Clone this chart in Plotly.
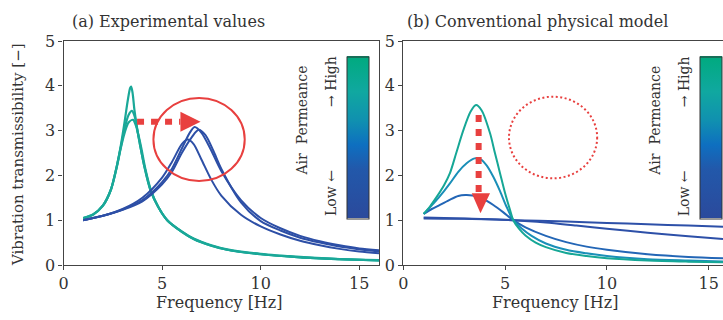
import plotly.graph_objects as go

W, H = 723, 320

# ---------------- data ----------------
# (a) Experimental values : high air permeance (teal) – three specimens
exp_high1_f = [1.0, 1.5, 2.0, 2.4, 2.7, 2.9, 3.1, 3.25, 3.38, 3.43, 3.5, 3.6, 3.75, 3.9, 4.1, 4.41, 4.8, 5.26, 6.0, 6.6, 7.5, 8.3, 10.0, 12.0, 14.0, 16.0]
exp_high1_y = [1.04, 1.12, 1.33, 1.68, 2.2, 2.65, 3.2, 3.65, 3.95, 3.98, 3.85, 3.45, 3.0, 2.64, 2.2, 1.67, 1.3, 1.0, 0.74, 0.58, 0.43, 0.34, 0.24, 0.17, 0.13, 0.1]
exp_high2_f = [1.0, 1.5, 2.0, 2.4, 2.7, 2.9, 3.1, 3.3, 3.47, 3.62, 3.75, 3.9, 4.1, 4.41, 4.8, 5.26, 6.0, 6.6, 7.5, 8.3, 10.0, 12.0, 14.0, 16.0]
exp_high2_y = [1.05, 1.13, 1.33, 1.68, 2.2, 2.62, 3.05, 3.35, 3.44, 3.3, 3.0, 2.64, 2.2, 1.67, 1.3, 1.0, 0.74, 0.58, 0.43, 0.34, 0.24, 0.17, 0.13, 0.1]
exp_high3_f = [1.0, 1.5, 2.0, 2.4, 2.7, 2.9, 3.1, 3.3, 3.53, 3.68, 3.8, 3.95, 4.15, 4.45, 4.8, 5.26, 6.0, 6.6, 7.5, 8.3, 10.0, 12.0, 14.0, 16.0]
exp_high3_y = [1.05, 1.13, 1.32, 1.67, 2.18, 2.6, 2.95, 3.18, 3.24, 3.1, 2.9, 2.6, 2.15, 1.65, 1.3, 1.0, 0.75, 0.59, 0.44, 0.35, 0.25, 0.18, 0.13, 0.11]

# (a) Experimental values : low air permeance (blue) – three specimens
exp_low1_f = [1.0, 2.0, 3.0, 4.0, 5.0, 5.5, 6.0, 6.3, 6.6, 7.0, 7.5, 8.0, 9.0, 10.0, 11.0, 12.0, 13.0, 14.0, 15.0, 16.0]
exp_low1_y = [1.0, 1.1, 1.25, 1.5, 1.95, 2.3, 2.7, 2.8, 2.7, 2.35, 1.9, 1.55, 1.12, 0.86, 0.68, 0.54, 0.44, 0.36, 0.3, 0.26]
exp_low2_f = [1.0, 2.0, 3.0, 4.0, 5.0, 5.5, 6.0, 6.4, 6.65, 7.0, 7.5, 8.0, 9.0, 10.0, 11.0, 12.0, 13.0, 14.0, 15.0, 16.0]
exp_low2_y = [1.0, 1.1, 1.24, 1.45, 1.85, 2.15, 2.6, 2.95, 3.08, 2.95, 2.55, 2.1, 1.45, 1.05, 0.82, 0.65, 0.53, 0.44, 0.37, 0.33]
exp_low3_f = [1.0, 2.0, 3.0, 4.0, 5.0, 5.5, 6.0, 6.5, 6.85, 7.2, 7.6, 8.0, 9.0, 10.0, 11.0, 12.0, 13.0, 14.0, 15.0, 16.0]
exp_low3_y = [1.0, 1.1, 1.23, 1.42, 1.8, 2.08, 2.5, 2.85, 3.02, 2.9, 2.55, 2.15, 1.4, 0.98, 0.77, 0.61, 0.5, 0.41, 0.35, 0.3]

# (b) Conventional physical model – five permeance levels (high -> low)
mod1_f = [1.0, 1.3, 1.64, 2.0, 2.29, 2.6, 2.95, 3.3, 3.57, 3.85, 4.26, 4.5, 4.75, 5.0, 5.24, 5.4, 5.7, 6.0, 6.5, 7.0, 8.0, 9.0, 10.0, 12.0, 14.0, 15.7]
mod1_y = [1.14, 1.3, 1.52, 1.78, 2.05, 2.5, 3.01, 3.42, 3.57, 3.45, 2.94, 2.5, 2.05, 1.6, 1.23, 1.0, 0.8, 0.66, 0.5, 0.4, 0.27, 0.2, 0.15, 0.1, 0.075, 0.06]
mod2_f = [1.0, 1.5, 2.0, 2.29, 2.7, 3.11, 3.5, 3.8, 4.1, 4.42, 4.75, 5.07, 5.4, 5.8, 6.3, 7.0, 8.0, 9.0, 10.0, 12.0, 14.0, 15.7]
mod2_y = [1.14, 1.38, 1.65, 1.82, 2.08, 2.27, 2.38, 2.36, 2.22, 1.97, 1.65, 1.3, 1.0, 0.82, 0.65, 0.48, 0.34, 0.26, 0.2, 0.13, 0.1, 0.08]
mod3_f = [1.0, 1.4, 1.8, 2.3, 2.7, 3.05, 3.4, 3.8, 4.1, 4.42, 4.9, 5.4, 6.0, 7.0, 8.0, 9.0, 10.0, 12.0, 14.0, 15.7]
mod3_y = [1.14, 1.25, 1.34, 1.46, 1.54, 1.56, 1.55, 1.5, 1.43, 1.34, 1.18, 1.0, 0.84, 0.65, 0.51, 0.41, 0.34, 0.24, 0.18, 0.15]
mod4_f = [1.0, 3.0, 5.4, 7.0, 8.5, 10.0, 12.0, 14.0, 15.7]
mod4_y = [1.04, 1.03, 1.0, 0.95, 0.88, 0.81, 0.72, 0.64, 0.58]
mod5_f = [1.0, 3.0, 5.4, 8.0, 10.0, 12.0, 14.0, 15.7]
mod5_y = [1.06, 1.04, 1.0, 0.97, 0.94, 0.91, 0.88, 0.855]

x_ticks = [0, 5, 10, 15]
y_ticks = [0, 1, 2, 3, 4, 5]

# ---------------- styling ----------------
FONT = "DejaVu Serif"
TXT = "#333333"
TEAL = "#1aa898"
BLUE = "#2d4fa6"
RED = "#e8403f"
MOD_COLORS = ["#16a796", "#1a8fb8", "#2366b6", "#2d50a8", "#2d50a8"]
CSCALE = [[0.0, "#2b4a9c"], [0.3, "#2258aa"], [0.45, "#0e6fc0"],
          [0.6, "#1090b0"], [0.78, "#10a8a0"], [1.0, "#00aa7e"]]

def px_x(p):
    return p / W

def px_y(p):
    return 1 - p / H

fig = go.Figure()

for f, y in [(exp_high1_f, exp_high1_y), (exp_high2_f, exp_high2_y), (exp_high3_f, exp_high3_y)]:
    fig.add_trace(go.Scatter(x=f, y=y, mode="lines", line=dict(color=TEAL, width=2.2, shape="spline", smoothing=0.8),
                             xaxis="x", yaxis="y", showlegend=False, hoverinfo="skip"))
for f, y in [(exp_low1_f, exp_low1_y), (exp_low2_f, exp_low2_y), (exp_low3_f, exp_low3_y)]:
    fig.add_trace(go.Scatter(x=f, y=y, mode="lines", line=dict(color=BLUE, width=2, shape="spline", smoothing=0.8),
                             xaxis="x", yaxis="y", showlegend=False, hoverinfo="skip"))

mods = [(mod5_f, mod5_y), (mod4_f, mod4_y), (mod3_f, mod3_y), (mod2_f, mod2_y), (mod1_f, mod1_y)]
cols = MOD_COLORS[::-1]
for (f, y), c in zip(mods, cols):
    fig.add_trace(go.Scatter(x=f, y=y, mode="lines", line=dict(color=c, width=2, shape="spline", smoothing=0.8),
                             xaxis="x2", yaxis="y2", showlegend=False, hoverinfo="skip"))

# colour bars (dummy traces, points outside the visible range)
for ax, xpix in [("", 346.7), ("2", 700.0)]:
    fig.add_trace(go.Scatter(
        x=[0, 0], y=[-5, -5], mode="markers", xaxis="x" + ax, yaxis="y" + ax,
        marker=dict(color=[0, 1], colorscale=CSCALE, size=1, showscale=True,
                    colorbar=dict(x=px_x(xpix), xanchor="left", xref="paper",
                                  y=px_y(137.5), yanchor="middle", yref="paper",
                                  len=161.6, lenmode="pixels", thickness=21.6, thicknessmode="pixels",
                                  xpad=0, ypad=0, outlinewidth=1, outlinecolor="#333333",
                                  ticks="", showticklabels=False)),
        showlegend=False, hoverinfo="skip"))

axis_common = dict(showgrid=False, zeroline=False, showline=True, linecolor="#444444", linewidth=1.2,
                   ticks="outside", ticklen=4, tickcolor="#444444", tickwidth=1, automargin=False,
                   tickfont=dict(family=FONT, size=16, color=TXT))

y_dom = [px_y(265), px_y(41)]
fig.update_layout(
    width=W, height=H, margin=dict(l=0, r=0, t=0, b=0, autoexpand=False),
    paper_bgcolor="white", plot_bgcolor="white",
    xaxis=dict(domain=[px_x(63.5), px_x(379)], range=[0, 16], tickvals=x_ticks, mirror=True, anchor="y", **axis_common),
    yaxis=dict(domain=y_dom, range=[0, 5], tickvals=y_ticks, mirror=True, anchor="x", **axis_common),
    xaxis2=dict(domain=[px_x(403.3), 1.0], range=[0, 15.7], tickvals=x_ticks, mirror=True, anchor="y2", **axis_common),
    yaxis2=dict(domain=y_dom, range=[0, 5], tickvals=y_ticks, mirror=False, anchor="x2", **axis_common),
)

shapes = []
# left panel: red ellipse + dotted arrow to the right
shapes.append(dict(type="circle", xref="x", yref="y", x0=4.56, x1=9.19, y0=1.875, y1=3.73,
                   line=dict(color=RED, width=2)))
shapes.append(dict(type="line", xref="x", yref="y", x0=3.73, x1=5.93, y0=3.2, y1=3.2,
                   line=dict(color=RED, width=6, dash="7px,7px")))
shapes.append(dict(type="path", xref="x", yref="y", path="M 5.93,3.42 L 5.93,2.975 L 6.95,3.2 Z",
                   fillcolor=RED, line=dict(width=0)))
# right panel: dotted circle + dotted arrow downwards
shapes.append(dict(type="circle", xref="x2", yref="y2", x0=5.19, x1=9.52, y0=1.935, y1=3.757,
                   line=dict(color=RED, width=2, dash="2px,2.5px")))
shapes.append(dict(type="line", xref="x2", yref="y2", x0=3.70, x1=3.70, y0=3.35, y1=1.61,
                   line=dict(color=RED, width=6, dash="7px,7px")))
shapes.append(dict(type="path", xref="x2", yref="y2", path="M 3.36,1.60 L 4.26,1.60 L 3.79,1.154 Z",
                   fillcolor=RED, line=dict(width=0)))
fig.update_layout(shapes=shapes)

ann = []
def add_text(text, x, y, size, angle=0, xanchor="center", yanchor="middle"):
    ann.append(dict(text=text, x=px_x(x), y=px_y(y), xref="paper", yref="paper", showarrow=False,
                    textangle=angle, xanchor=xanchor, yanchor=yanchor,
                    font=dict(family=FONT, size=size, color=TXT)))

add_text("(a) Experimental values", 70, 21, 16, xanchor="left")
add_text("(b) Conventional physical model", 405, 21, 16, xanchor="left")
add_text("Frequency [Hz]", 220, 302, 16)
add_text("Frequency [Hz]", 555, 302, 16)
add_text("Vibration transmissibility [−]", 18, 155, 15, angle=-90)
for dx in [0, 353.3]:
    add_text("Air  Permeance", 301.5 + dx, 121, 14, angle=-90)
    add_text("→ High", 331 + dx, 82, 14, angle=-90)
    add_text("Low ←", 331 + dx, 193, 14, angle=-90)
fig.update_layout(annotations=ann)

fig.write_html("out.html", config={"displayModeBar": False},
               post_script="document.body.style.margin='0';document.body.style.overflow='hidden';")
